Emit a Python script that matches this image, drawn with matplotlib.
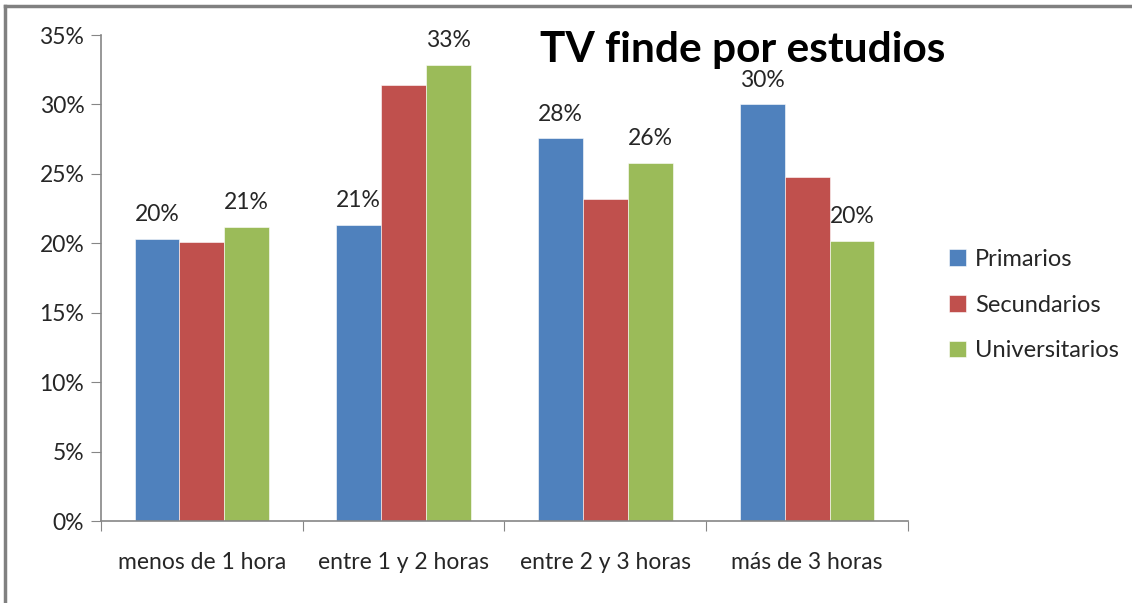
import numpy as np
import matplotlib.pyplot as plt
from matplotlib.lines import Line2D

categories = ['menos de 1 hora', 'entre 1 y 2 horas', 'entre 2 y 3 horas', 'más de 3 horas']
series = ['Primarios', 'Secundarios', 'Universitarios']
primarios = [20.3, 21.3, 27.55, 30.0]
secundarios = [20.1, 31.4, 23.2, 24.75]
universitarios = [21.2, 32.85, 25.8, 20.2]
colors = ['#4F81BD', '#C0504D', '#9BBB59']
labelled = [True, False, True]  # only Primarios and Universitarios have data labels

plt.rcParams['font.family'] = ['Lato', 'DejaVu Sans']

fig = plt.figure(figsize=(11.32, 6.03), dpi=100)
ax = fig.add_axes([101 / 1132, 82 / 603, (908 - 101) / 1132, (521 - 35) / 603])

X = np.arange(len(categories))
w = 1 / 4.5
for i, vals in enumerate([primarios, secundarios, universitarios]):
    bars = ax.bar(X + (i - 1) * w, vals, width=w, color=colors[i], label=series[i],
                  edgecolor='white', linewidth=0.4)
    if labelled[i]:
        for b, v in zip(bars, vals):
            ax.annotate('%.0f%%' % v, (b.get_x() + b.get_width() / 2, v),
                        xytext=(0, 10), textcoords='offset points',
                        ha='center', va='bottom', fontsize=16.5, color='#262626')

ax.set_xlim(-0.5, 3.5)
ax.set_ylim(0, 35)
ax.set_yticks(np.arange(0, 36, 5))
ax.set_yticklabels(['%d%%' % t for t in range(0, 36, 5)])
ax.set_xticks(np.arange(-0.5, 4, 1))
ax.set_xticklabels([])
ax.set_xticks(X, minor=True)
ax.set_xticklabels(categories, minor=True)
ax.tick_params(axis='x', which='minor', length=0, pad=22, labelsize=16.5, labelcolor='#262626')
ax.tick_params(axis='x', which='major', length=7, direction='out', color='#868686')
ax.tick_params(axis='y', length=7, color='#868686', labelsize=16.5, labelcolor='#262626', pad=5)
for s in ['top', 'right']:
    ax.spines[s].set_visible(False)
for s in ['left', 'bottom']:
    ax.spines[s].set_color('#868686')
    ax.spines[s].set_linewidth(1.2)

fig.text(743 / 1132, 1 - 50 / 603, 'TV finde por estudios', ha='center', va='center',
         fontsize=30.5, fontweight='bold', color='black')

ax.legend(loc='center left', bbox_to_anchor=(928 / 1132, 1 - 305 / 603),
          bbox_transform=fig.transFigure, frameon=False, fontsize=17,
          handlelength=0.7, handleheight=0.7, handletextpad=0.4, labelspacing=1.05,
          labelcolor='#262626')

# outer chart frame (left and top edges visible)
fig.add_artist(Line2D([5 / 1132, 5 / 1132], [0, 1 - 6 / 603], color='#808080', lw=2.5,
                      transform=fig.transFigure))
fig.add_artist(Line2D([5 / 1132, 1], [1 - 6 / 603, 1 - 6 / 603], color='#808080', lw=2.5,
                      transform=fig.transFigure))

fig.savefig('out.png', dpi=100)
